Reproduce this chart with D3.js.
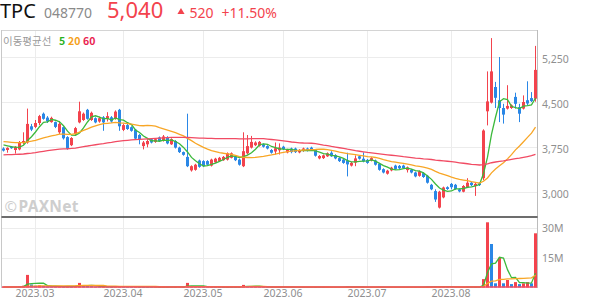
<!DOCTYPE html>
<html><head><meta charset="utf-8">
<script src="https://cdn.jsdelivr.net/npm/d3@7"></script>
<style>
body{margin:0;background:#fff}
svg{display:block;font-family:"Noto Sans CJK KR","Noto Sans",sans-serif}
</style>
</head><body>
<svg id="c" width="594" height="304"></svg>
<script>
// ---- data ----
const opens = [3730,3705,3760,3705,3715,3830,3830,4100,4090,4155,4310,4245,4170,4170,4000,4085,3920,3785,3970,4165,
4205,4375,4205,4235,4180,4250,4225,4250,4225,4375,4040,4120,4085,4045,3955,3770,3800,3885,3840,3915,
3855,3915,3800,3855,3745,3670,3590,3365,3375,3530,3520,3520,3445,3500,3520,3535,3545,3575,3590,3545,
3435,3650,3745,3785,3775,3800,3770,3705,3680,3700,3760,3665,3730,3730,3665,3690,3730,3745,3705,3565,
3570,3600,3660,3620,3570,3545,3530,3445,3495,3600,3560,3540,3530,3530,3475,3385,3310,3365,3445,3440,
3445,3370,3375,3330,3275,3320,3275,3125,3020,2745,2915,3085,3140,3125,3050,3010,3085,3160,3105,3150,
3235,4350,4495,4755,4535,4405,4395,4405,4590,4420,4395,4535,4570,4560];
const highs = [3750,3750,3770,3770,3855,4000,4395,4140,4205,4290,4330,4270,4260,4180,4190,4100,3935,3920,4090,4510,
4330,4390,4345,4250,4260,4270,4335,4270,4365,4390,4140,4140,4100,4055,3970,3855,3885,3900,3900,3930,
3955,3935,3900,3870,3760,3680,4310,3450,3475,3545,3535,3535,3560,3575,3590,3605,3665,3665,3605,3560,
4000,3955,3940,3850,3855,3815,3785,3720,3830,3815,3775,3725,3745,3745,3720,3745,3745,3760,3720,3620,
3630,3665,3685,3635,3585,3560,3660,3505,3615,3615,3665,3555,3585,3545,3490,3400,3375,3425,3460,3455,
3460,3430,3390,3345,3365,3335,3290,3140,3050,3025,3095,3100,3155,3140,3065,3120,3235,3175,3155,3165,
4050,5015,5570,4840,5255,4475,4785,4465,4660,4475,4615,4850,4670,5440];
const lows = [3680,3660,3725,3645,3700,3800,3810,4020,4070,4120,4210,4155,4160,4070,3970,3880,3710,3770,3950,4150,
4190,4210,4190,4150,4160,4025,4180,4160,4210,4025,4020,4040,4010,3880,3800,3715,3750,3815,3825,3840,
3845,3800,3790,3730,3655,3610,3420,3345,3360,3410,3420,3445,3430,3490,3510,3525,3530,3565,3520,3445,
3420,3630,3730,3770,3760,3745,3715,3645,3630,3630,3705,3650,3650,3655,3650,3675,3680,3690,3595,3550,
3555,3590,3590,3550,3505,3475,3265,3430,3435,3545,3500,3475,3515,3445,3360,3315,3295,3350,3375,3385,
3390,3330,3315,3250,3260,3240,3145,3035,2840,2730,2900,3040,3050,3040,3000,3000,3070,3105,2940,3105,
3200,4115,4480,4405,4170,4145,4380,4390,4395,4170,4380,4450,4505,4510];
const closes = [3695,3740,3735,3760,3830,3855,4140,4045,4155,4270,4225,4180,4240,4090,4140,3900,3725,3905,4070,4350,
4310,4225,4325,4165,4235,4165,4270,4180,4345,4100,4120,4055,4025,3895,3885,3830,3855,3830,3885,3855,
3930,3815,3885,3745,3670,3625,3435,3435,3460,3425,3435,3460,3545,3560,3575,3590,3650,3650,3535,3460,
3685,3770,3840,3830,3840,3760,3730,3660,3735,3745,3720,3710,3670,3670,3705,3730,3695,3705,3610,3605,
3615,3650,3600,3565,3520,3490,3465,3490,3565,3560,3515,3490,3570,3460,3375,3330,3360,3410,3390,3400,
3405,3415,3330,3265,3350,3255,3160,3050,2880,3010,3080,3055,3085,3055,3015,3105,3160,3120,3140,3120,
4030,4515,5015,4575,4405,4295,4440,4450,4475,4310,4505,4480,4520,5040];
const volumes = [250e3,300e3,200e3,350e3,600e3,900e3,6300e3,1500e3,900e3,1100e3,800e3,500e3,400e3,350e3,600e3,500e3,700e3,400e3,500e3,2300e3,
900e3,700e3,600e3,400e3,350e3,450e3,400e3,300e3,500e3,600e3,400e3,300e3,250e3,450e3,400e3,300e3,250e3,200e3,200e3,250e3,
300e3,250e3,200e3,300e3,300e3,250e3,2300e3,700e3,500e3,400e3,300e3,250e3,300e3,250e3,250e3,200e3,300e3,250e3,200e3,250e3,
1300e3,700e3,500e3,350e3,300e3,250e3,200e3,200e3,300e3,350e3,200e3,200e3,200e3,180e3,180e3,200e3,150e3,150e3,250e3,200e3,
200e3,200e3,250e3,200e3,200e3,200e3,400e3,200e3,250e3,200e3,250e3,200e3,180e3,200e3,300e3,250e3,200e3,200e3,180e3,150e3,
150e3,200e3,200e3,250e3,250e3,200e3,300e3,350e3,500e3,600e3,400e3,250e3,200e3,200e3,200e3,250e3,350e3,200e3,250e3,200e3,
4200e3,32600e3,21750e3,2100e3,14900e3,2100e3,3750e3,1700e3,2700e3,1700e3,2100e3,2700e3,2100e3,27100e3];
const maPeriods = [5, 20, 60];
const maStart = [3790, 3845, 3625];          // level of each average at the first candle
const monthTickIdx = [8, 30, 50, 70, 91, 112];
const monthTickLabels = ["2023.03","2023.04","2023.05","2023.06","2023.07","2023.08"];
const priceTicks = [3000, 3750, 4500, 5250];
const volTicks = [15e6, 30e6];
const header = {name:"TPC", code:"048770", price:"5,040", change:"520", pct:"+11.50%"};

// ---- styles ----
const RED = "#f3434d", BLUE = "#2a87e6";
const MA_COL = ["#3cb93c", "#f8a626", "#f14b63"];
const LABEL_COL = ["#29b21f", "#f5a11c", "#ea1f52"];

const svg = d3.select("#c");
const n = closes.length;
const L = 1, R = 537;
const x = d3.scaleBand().domain(d3.range(n)).range([L, R]);
const cx = i => x(i) + 2.5;
const y = d3.scaleLinear().domain([3000, 5250]).range([192.3, 57.3]);
const yv = d3.scaleLinear().domain([0, 30e6]).range([287.5, 227.5]);
const crisp = v => Math.round(v) + 0.5;

function movingAvg(vals, p, start) {
  const seed = start == null ? vals[0] : (start * p - vals[0]) / (p - 1);
  return vals.map((v, i) => {
    let s = 0;
    for (let k = i - p + 1; k <= i; k++) s += k < 0 ? seed : vals[k];
    return s / p;
  });
}

// ---- header ----
const hd = svg.append("g").attr("font-family", '"Noto Sans","Liberation Sans",sans-serif');
hd.append("text").attr("x", 0).attr("y", 17.5).attr("font-size", 20).attr("fill", "#111").text(header.name);
hd.append("text").attr("x", 44).attr("y", 17.5).attr("font-size", 14).attr("fill", "#8a8a8a").text(header.code);
hd.append("text").attr("x", 107).attr("y", 17.8).attr("font-size", 22).attr("fill", RED).text(header.price);
hd.append("path").attr("d", d3.symbol(d3.symbolTriangle, 22)()).attr("transform", "translate(181,12)").attr("fill", RED);
hd.append("text").attr("x", 189.5).attr("y", 17.5).attr("font-size", 14).attr("fill", RED).text(header.change);
hd.append("text").attr("x", 221.5).attr("y", 17.5).attr("font-size", 14).attr("fill", RED).text(header.pct);

// ---- grid ----
const grid = svg.append("g").attr("stroke", "#ececec").attr("stroke-width", 1);
monthTickIdx.forEach(i => {
  grid.append("line").attr("x1", cx(i)).attr("x2", cx(i)).attr("y1", 30).attr("y2", 287);
});
priceTicks.forEach(t => {
  grid.append("line").attr("x1", 2).attr("x2", R).attr("y1", crisp(y(t))).attr("y2", crisp(y(t)));
});
volTicks.forEach(t => {
  grid.append("line").attr("x1", 2).attr("x2", R).attr("y1", crisp(yv(t))).attr("y2", crisp(yv(t)));
});

// ---- frame ----
svg.append("line").attr("x1", 1.5).attr("x2", R + 0.5).attr("y1", 30.5).attr("y2", 30.5).attr("stroke", "#d4d4d4");
svg.append("line").attr("x1", 1.5).attr("x2", 1.5).attr("y1", 30).attr("y2", 288).attr("stroke", "#c8c8c8");
svg.append("line").attr("x1", R + 0.5).attr("x2", R + 0.5).attr("y1", 30).attr("y2", 288).attr("stroke", "#bcbcbc");

// ---- legend ----
const lg = svg.append("g").attr("font-size", 10.5);
lg.append("text").attr("x", 3).attr("y", 44.5).attr("fill", "#9a9a9a").text("이동평균선");
[[59, "5"], [68, "20"], [83, "60"]].forEach((d, k) => {
  lg.append("text").attr("x", d[0]).attr("y", 44.5).attr("font-weight", "bold").attr("fill", LABEL_COL[k]).text(d[1]);
});

// ---- watermark ----
const wm = svg.append("g").attr("font-family", '"Noto Sans","Liberation Sans",sans-serif').attr("fill", "#cecece");
wm.append("text").attr("x", 4.5).attr("y", 211.5).attr("font-size", 15).text("©");
wm.append("text").attr("x", 18.5).attr("y", 211.5).attr("font-size", 15.5).attr("font-weight", "bold")
   .attr("letter-spacing", 0.3).text("PAXNet");

// ---- candles ----
const idx = d3.range(n);
const cg = svg.append("g");
cg.selectAll("line.w").data(idx).join("line")
  .attr("x1", cx).attr("x2", cx)
  .attr("y1", i => y(highs[i])).attr("y2", i => y(lows[i]))
  .attr("stroke", i => closes[i] >= opens[i] ? RED : BLUE).attr("stroke-width", 1);
cg.selectAll("rect").data(idx).join("rect")
  .attr("x", i => x(i) + 1).attr("width", 3)
  .attr("y", i => y(Math.max(opens[i], closes[i])))
  .attr("height", i => Math.max(1, Math.abs(y(opens[i]) - y(closes[i]))))
  .attr("fill", i => closes[i] >= opens[i] ? RED : BLUE);

// ---- price moving averages ----
maPeriods.forEach((p, k) => {
  const ma = movingAvg(closes, p, maStart[k]);
  svg.append("path").datum(ma)
    .attr("d", d3.line().x((d, i) => cx(i)).y(d => y(d)))
    .attr("fill", "none").attr("stroke", MA_COL[k]).attr("stroke-width", 1.3);
});

// ---- separator ----
svg.append("line").attr("x1", 1.5).attr("x2", R + 0.5).attr("y1", 217).attr("y2", 217)
   .attr("stroke", "#3c3c3c").attr("stroke-width", 1.5);

// ---- volume ----
const vg = svg.append("g");
vg.selectAll("rect").data(idx).join("rect")
  .attr("x", i => x(i) + 1).attr("width", 3)
  .attr("y", i => yv(volumes[i])).attr("height", i => yv(0) - yv(volumes[i]))
  .attr("fill", i => (i === 0 || volumes[i] >= volumes[i - 1]) ? RED : BLUE);
[0, 1].forEach(k => {
  const ma = movingAvg(volumes, maPeriods[k], null);
  vg.append("path").datum(ma)
    .attr("d", d3.line().x((d, i) => cx(i)).y(d => yv(d)))
    .attr("fill", "none").attr("stroke", MA_COL[k]).attr("stroke-width", 1.3);
});
svg.append("line").attr("x1", 2).attr("x2", R).attr("y1", 287).attr("y2", 287)
   .attr("stroke", MA_COL[2]).attr("stroke-width", 1.5);

// ---- axes ----
const ay = svg.append("g").attr("transform", `translate(${R},2)`)
  .call(d3.axisRight(y).tickValues(priceTicks).tickFormat(d3.format(",")).tickSize(0).tickPadding(5));
const av = svg.append("g").attr("transform", `translate(${R},1)`)
  .call(d3.axisRight(yv).tickValues(volTicks).tickFormat(d => d / 1e6 + "M").tickSize(0).tickPadding(5));
const ax = svg.append("g").attr("transform", "translate(0,287)")
  .call(d3.axisBottom(x).tickValues(monthTickIdx).tickFormat((d, k) => monthTickLabels[k]).tickSize(0).tickPadding(2.5));
[ay, av, ax].forEach(g => {
  g.select(".domain").remove();
  g.selectAll("text").attr("font-size", 10.5).attr("fill", "#8f8f8f")
   .attr("font-family", '"Noto Sans","Noto Sans CJK KR",sans-serif');
});
</script>
</body></html>
